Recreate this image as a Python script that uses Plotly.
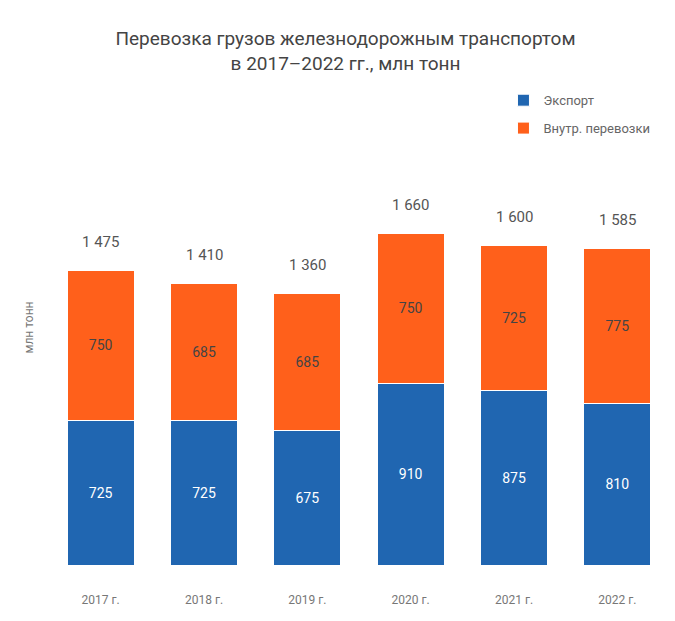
import plotly.graph_objects as go

categories = ["2017 г.", "2018 г.", "2019 г.", "2020 г.", "2021 г.", "2022 г."]
series_names = ["Экспорт", "Внутр. перевозки"]
blue_values = [725, 725, 675, 910, 875, 810]
orange_values = [750, 685, 685, 750, 725, 775]
totals = [b + o for b, o in zip(blue_values, orange_values)]
total_labels = [f"{t:,}".replace(",", " ") for t in totals]

BLUE = "#2066b1"
ORANGE = "#ff601b"

fig = go.Figure()
fig.add_trace(go.Bar(
    x=categories, y=blue_values, name=series_names[0], legendgroup="a",
    marker=dict(color=BLUE, line=dict(color="white", width=1)),
    text=blue_values, textposition="inside", insidetextanchor="middle",
    textfont=dict(color="white", size=14, family="Roboto"),
))
fig.add_trace(go.Bar(
    x=categories, y=orange_values, name=series_names[1], legendgroup="b",
    marker=dict(color=ORANGE, line=dict(color="white", width=1)),
    text=orange_values, textposition="inside", insidetextanchor="middle",
    textfont=dict(color="#444444", size=14, family="Roboto"),
))

for c, t, lab in zip(categories, totals, total_labels):
    fig.add_annotation(x=c, y=t, text=lab, showarrow=False, yanchor="bottom",
                       yshift=17, font=dict(size=15, color="#555555", family="Roboto"))

fig.update_layout(
    width=675, height=621,
    barmode="stack", bargap=0.35,
    paper_bgcolor="white", plot_bgcolor="white",
    margin=dict(l=41, r=14, t=82, b=64, autoexpand=False),
    title=dict(
        text="Перевозка грузов железнодорожным транспортом<br>в 2017–2022 гг., млн тонн",
        x=0.5, xanchor="center", y=0.94, yanchor="top",
        font=dict(size=19, color="#444444", family="Roboto"),
    ),
    legend=dict(orientation="v", x=0.733, xanchor="left", y=1.01, yanchor="top",
                font=dict(size=13, color="#666666", family="Roboto"),
                traceorder="grouped", tracegroupgap=8),
    font=dict(family="Roboto"),
    xaxis=dict(showgrid=False, showline=False, ticks="", automargin=False,
               ticklabelstandoff=26,
               tickfont=dict(size=12, color="#777777")),
    yaxis=dict(range=[0, 2375], showgrid=False, showticklabels=False, zeroline=False,
               automargin=False,
               title=dict(text="млн тонн", standoff=11, font=dict(size=12, color="#777777"))),
)

fig.write_html("out.html")
